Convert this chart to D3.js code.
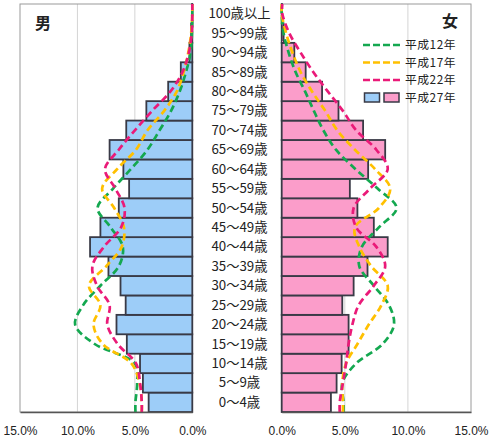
<!DOCTYPE html>
<html>
<head>
<meta charset="utf-8">
<script src="https://cdn.jsdelivr.net/npm/d3@7"></script>
<style>
  body { margin: 0; background: #fff; }
  text { font-family: "Noto Sans CJK JP", "Noto Sans", sans-serif; }
</style>
</head>
<body>
<div id="chart"></div>
<script>
// age groups, bottom (0-4) to top (100+)
const ages = ['0～4歳', '5～9歳', '10～14歳', '15～19歳', '20～24歳', '25～29歳', '30～34歳',
  '35～39歳', '40～44歳', '45～49歳', '50～54歳', '55～59歳', '60～64歳', '65～69歳',
  '70～74歳', '75～79歳', '80～84歳', '85～89歳', '90～94歳', '95～99歳', '100歳以上'];

// share of population (%)
const maleH27 = [3.8, 4.3, 4.55, 5.7, 6.6, 5.8, 6.25, 7.3, 8.9, 8.0, 6.4, 5.5, 6.0, 7.2, 5.75, 4.0, 2.1, 1.0, 0.25, 0.1, 0.02];
const maleH22 = [4.4, 4.55, 4.9, 6.5, 7.4, 7.2, 8.3, 8.7, 7.7, 6.2, 5.9, 6.7, 7.6, 6.4, 5.0, 3.5, 1.9, 0.85, 0.3, 0.05, 0];
const maleH17 = [4.4, 4.6, 5.3, 7.8, 8.6, 8.0, 9.0, 7.5, 6.15, 5.95, 6.8, 7.85, 6.55, 4.9, 3.9, 2.45, 1.35, 0.75, 0.35, 0.1, 0];
const maleH12 = [4.95, 4.8, 5.0, 8.5, 10.2, 9.5, 8.0, 6.4, 6.05, 7.1, 8.25, 6.9, 5.35, 3.9, 2.85, 1.85, 1.1, 0.55, 0.15, 0.03, 0];

const femaleH27 = [3.9, 4.35, 4.75, 5.3, 5.3, 4.8, 5.7, 6.8, 8.4, 7.3, 6.0, 5.4, 6.85, 8.2, 6.45, 4.5, 3.2, 1.9, 1.0, 0.15, 0.02];
const femaleH22 = [4.6, 4.85, 5.1, 5.3, 5.6, 6.1, 7.3, 8.2, 7.5, 5.9, 5.7, 7.0, 8.4, 7.5, 5.9, 4.85, 3.65, 2.5, 1.5, 0.6, 0.05];
const femaleH17 = [4.85, 4.8, 5.1, 6.0, 6.9, 7.9, 8.4, 7.1, 6.15, 5.8, 7.7, 8.6, 7.4, 5.8, 4.4, 3.45, 2.4, 1.5, 0.85, 0.35, 0];
const femaleH12 = [4.9, 4.8, 5.9, 8.0, 8.9, 8.5, 7.3, 6.15, 6.35, 7.7, 9.1, 7.6, 5.85, 4.3, 3.3, 2.55, 1.85, 1.1, 0.55, 0.15, 0];

const xTicks = [0, 5, 10, 15];
const gridTicks = [5, 10];
const legendNames = ['平成12年', '平成17年', '平成22年', '平成27年'];

const colors = {
  h12: '#14a850',
  h17: '#ffc000',
  h22: '#ea1a78',
  maleBar: '#9dcdf8',
  femaleBar: '#fb9dca',
  barStroke: '#393a46',
  grid: '#d4d4d4',
  frame: '#9a9a9a',
};

const width = 495;
const height = 441;
const plotTop = 4;
const plotBottom = 412;

const svg = d3.select('#chart').append('svg')
  .attr('width', width)
  .attr('height', height)
  .style('background-color', '#fff');

const yScale = d3.scaleBand().domain(ages).range([plotBottom, plotTop]);
const bw = yScale.bandwidth();

const xLeft = d3.scaleLinear().domain([0, 15]).range([192.3, 20]);
const xRight = d3.scaleLinear().domain([0, 15]).range([281.7, 471]);

function drawPanel(xScale, bars, barColor, lines) {
  const g = svg.append('g');
  const [x0, x1] = xScale.range();
  const xMin = Math.min(x0, x1);
  const xMax = Math.max(x0, x1);

  // gridlines
  g.selectAll('.grid')
    .data(gridTicks)
    .enter()
    .append('line')
    .attr('x1', (d) => xScale(d))
    .attr('x2', (d) => xScale(d))
    .attr('y1', plotTop)
    .attr('y2', plotBottom)
    .attr('stroke', colors.grid)
    .attr('stroke-width', 1);

  // frame
  g.append('rect')
    .attr('x', xMin)
    .attr('y', plotTop)
    .attr('width', xMax - xMin)
    .attr('height', plotBottom - plotTop)
    .attr('fill', 'none')
    .attr('stroke', colors.frame)
    .attr('stroke-width', 1);

  // bars
  g.selectAll('.bar')
    .data(bars)
    .enter()
    .append('rect')
    .attr('x', (d) => Math.min(xScale(0), xScale(d)))
    .attr('y', (d, i) => yScale(ages[i]))
    .attr('width', (d) => Math.abs(xScale(d) - xScale(0)))
    .attr('height', bw)
    .attr('fill', barColor)
    .attr('stroke', colors.barStroke)
    .attr('stroke-width', 1.8);

  // smoothed dashed lines
  const lineGen = d3.line().curve(d3.curveCatmullRom.alpha(0.5));
  lines.forEach((ln) => {
    const pts = ln.values.map((v, i) => [xScale(v), yScale(ages[i]) + bw / 2]);
    pts.unshift([xScale(ln.values[0]), plotBottom]);
    pts.push([xScale(ln.values[ln.values.length - 1]), plotTop]);
    g.append('path')
      .attr('d', lineGen(pts))
      .attr('fill', 'none')
      .attr('stroke', ln.color)
      .attr('stroke-width', 2.7)
      .attr('stroke-dasharray', '7,4');
  });

  // bottom axis
  const axis = d3.axisBottom(xScale)
    .tickValues(xTicks)
    .tickSize(0)
    .tickPadding(14)
    .tickFormat((d) => `${d.toFixed(1)}%`);
  const ax = g.append('g')
    .attr('transform', `translate(0,${plotBottom})`)
    .call(axis);
  ax.select('.domain').attr('stroke', '#555').attr('stroke-width', 1.5);
  ax.selectAll('text')
    .attr('font-size', 12)
    .attr('fill', '#222')
    .style('font-family', '"Liberation Sans", Arial, sans-serif');
}

drawPanel(xLeft, maleH27, colors.maleBar, [
  { values: maleH12, color: colors.h12 },
  { values: maleH17, color: colors.h17 },
  { values: maleH22, color: colors.h22 },
]);

drawPanel(xRight, femaleH27, colors.femaleBar, [
  { values: femaleH12, color: colors.h12 },
  { values: femaleH17, color: colors.h17 },
  { values: femaleH22, color: colors.h22 },
]);

// age labels in the middle
svg.append('g').selectAll('text')
  .data(ages)
  .enter()
  .append('text')
  .attr('x', 239.5)
  .attr('y', (d) => yScale(d) + bw / 2 + 1)
  .attr('text-anchor', 'middle')
  .attr('dominant-baseline', 'middle')
  .attr('font-size', 13.3)
  .attr('fill', '#222')
  .text((d) => d);

// panel titles
svg.append('text')
  .attr('x', 43).attr('y', 25)
  .attr('text-anchor', 'middle')
  .attr('dominant-baseline', 'middle')
  .attr('font-size', 16)
  .attr('font-weight', 'bold')
  .attr('fill', '#222')
  .text('男');

svg.append('text')
  .attr('x', 450).attr('y', 23)
  .attr('text-anchor', 'middle')
  .attr('dominant-baseline', 'middle')
  .attr('font-size', 16)
  .attr('font-weight', 'bold')
  .attr('fill', '#222')
  .text('女');

// legend
const legend = svg.append('g');
const legendRows = [45, 62.5, 80, 97.5];
const legendColors = [colors.h12, colors.h17, colors.h22];

legendColors.forEach((c, i) => {
  legend.append('line')
    .attr('x1', 363).attr('x2', 401)
    .attr('y1', legendRows[i]).attr('y2', legendRows[i])
    .attr('stroke', c)
    .attr('stroke-width', 2.7)
    .attr('stroke-dasharray', '7,3');
});

legend.append('rect')
  .attr('x', 364.5).attr('y', legendRows[3] - 4.5)
  .attr('width', 15).attr('height', 9)
  .attr('fill', colors.maleBar)
  .attr('stroke', colors.barStroke)
  .attr('stroke-width', 1.5);

legend.append('rect')
  .attr('x', 384).attr('y', legendRows[3] - 4.5)
  .attr('width', 15).attr('height', 9)
  .attr('fill', colors.femaleBar)
  .attr('stroke', colors.barStroke)
  .attr('stroke-width', 1.5);

legend.selectAll('.lt')
  .data(legendNames)
  .enter()
  .append('text')
  .attr('x', 405)
  .attr('y', (d, i) => legendRows[i] + 1)
  .attr('dominant-baseline', 'middle')
  .attr('font-size', 11.8)
  .attr('letter-spacing', 0.5)
  .attr('fill', '#222')
  .text((d) => d);
</script>
</body>
</html>
